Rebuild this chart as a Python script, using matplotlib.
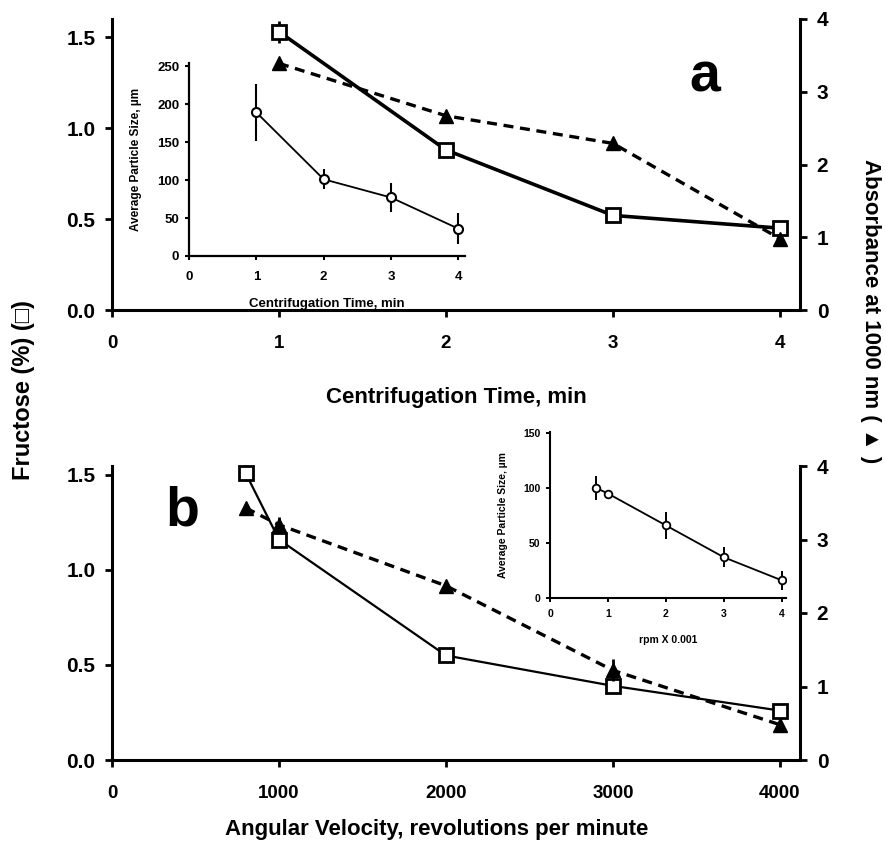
import matplotlib
matplotlib.use('Agg')
import matplotlib.pyplot as plt

plt.rcParams['font.family'] = ['Liberation Sans', 'DejaVu Sans']
plt.rcParams['font.weight'] = 'bold'

# panel a: centrifugation time
time_min = [1, 2, 3, 4]
fructose_a = [1.53, 0.88, 0.52, 0.45]
fructose_a_err = [0.06, 0, 0, 0]
absorb_a = [3.39, 2.67, 2.29, 0.98]

# inset a
inset_a_time = [1, 2, 3, 4]
inset_a_size = [189, 101, 77, 36]
inset_a_err = [38, 13, 19, 20]

# panel b: angular velocity
rpm = [800, 1000, 2000, 3000, 4000]
fructose_b = [1.51, 1.16, 0.55, 0.39, 0.26]
fructose_b_err = [0.04, 0, 0, 0, 0]
absorb_b = [3.43, 3.20, 2.37, 1.22, 0.48]
absorb_b_err = [0, 0.1, 0, 0.15, 0.08]

# inset b
inset_b_rpm = [0.8, 1, 2, 3, 4]
inset_b_size = [100, 95, 66, 37, 16]
inset_b_err = [11, 0, 12, 9, 9]

W, H = 886, 852
fig = plt.figure(figsize=(W / 100, H / 100), dpi=100)


def box(l, t, r, b):
    return [l / W, 1 - b / H, (r - l) / W, (b - t) / H]


def style_main(ax):
    ax.spines['top'].set_visible(False)
    for s in ['left', 'right', 'bottom']:
        ax.spines[s].set_linewidth(2.2)
    ax.tick_params(direction='out', length=5, width=2)
    ax.tick_params(axis='x', labelsize=13.5, pad=13)
    ax.tick_params(axis='y', labelsize=15, pad=7)


# ---- panel a
axa = fig.add_axes(box(112, 19, 800, 310))
axa2 = axa.twinx()
axa.errorbar(time_min, fructose_a, yerr=fructose_a_err, color='k', lw=2.6,
             marker='s', ms=10, mfc='white', mec='k', mew=2, ecolor='k', elinewidth=2,
             capsize=0, zorder=5, clip_on=False)
axa2.plot(time_min, absorb_a, color='k', lw=2.4, ls=(0, (3, 2)), marker='^', ms=10,
          mfc='k', mec='k', clip_on=False)
axa.set_xlim(0, 4.12)
axa.set_ylim(0, 1.6)
axa2.set_ylim(0, 4)
axa.set_xticks([0, 1, 2, 3, 4])
axa.set_yticks([0, 0.5, 1.0, 1.5])
axa.set_yticklabels(['0.0', '0.5', '1.0', '1.5'])
axa2.set_yticks([0, 1, 2, 3, 4])
style_main(axa)
style_main(axa2)
axa.spines['right'].set_visible(False)
axa2.spines['left'].set_visible(False)
axa2.spines['bottom'].set_visible(False)
axa2.text(3.55, 3.2, 'a', fontsize=40, fontweight='bold', ha='center', va='center')

# inset a
ia = fig.add_axes(box(189, 63, 465, 256))
ia.patch.set_alpha(0)
ia.errorbar(inset_a_time, inset_a_size, yerr=inset_a_err, color='k', lw=1.3,
            marker='o', ms=6.5, mfc='white', mec='k', mew=1.5, elinewidth=1.5, capsize=0)
ia.set_xlim(0, 4.1)
ia.set_ylim(0, 254)
ia.set_xticks([0, 1, 2, 3, 4])
ia.set_yticks([0, 50, 100, 150, 200, 250])
for s in ['top', 'right']:
    ia.spines[s].set_visible(False)
for s in ['left', 'bottom']:
    ia.spines[s].set_linewidth(1.6)
ia.tick_params(direction='out', length=3, width=1.5, labelsize=9.5)
ia.tick_params(axis='x', pad=8)
ia.tick_params(axis='y', pad=4)
ia.set_xlabel('Centrifugation Time, min', fontsize=9.5, fontweight='bold')
ia.set_ylabel('Average Particle Size, µm', fontsize=8.5, fontweight='bold')
ia.xaxis.set_label_coords(0.5, -0.22)
ia.yaxis.set_label_coords(-0.17, 0.5)

# ---- panel b
axb = fig.add_axes(box(112, 466, 800, 760))
axb2 = axb.twinx()
axb.errorbar(rpm, fructose_b, yerr=fructose_b_err, color='k', lw=1.6,
             marker='s', ms=10, mfc='white', mec='k', mew=2, ecolor='k', elinewidth=2,
             capsize=0, zorder=5, clip_on=False)
axb2.errorbar(rpm, absorb_b, yerr=absorb_b_err, color='k', lw=2.4, ls=(0, (3, 2)),
              marker='^', ms=10, mfc='k', mec='k', elinewidth=2, capsize=0, clip_on=False)
axb.set_xlim(0, 4120)
axb.set_ylim(0, 1.547)
axb2.set_ylim(0, 4)
axb.set_xticks([0, 1000, 2000, 3000, 4000])
axb.set_yticks([0, 0.5, 1.0, 1.5])
axb.set_yticklabels(['0.0', '0.5', '1.0', '1.5'])
axb2.set_yticks([0, 1, 2, 3, 4])
style_main(axb)
style_main(axb2)
axb.spines['right'].set_visible(False)
axb2.spines['left'].set_visible(False)
axb2.spines['bottom'].set_visible(False)
axb.text(420, 1.31, 'b', fontsize=40, fontweight='bold', ha='center', va='center')

# inset b
ib = fig.add_axes(box(550, 432, 786, 598))
ib.patch.set_alpha(0)
ib.errorbar(inset_b_rpm, inset_b_size, yerr=inset_b_err, color='k', lw=1.3,
            marker='o', ms=5.5, mfc='white', mec='k', mew=1.3, elinewidth=1.4, capsize=0)
ib.set_xlim(0, 4.07)
ib.set_ylim(0, 151)
ib.set_xticks([0, 1, 2, 3, 4])
ib.set_yticks([0, 50, 100, 150])
for s in ['top', 'right']:
    ib.spines[s].set_visible(False)
for s in ['left', 'bottom']:
    ib.spines[s].set_linewidth(1.5)
ib.tick_params(direction='out', length=3, width=1.4, labelsize=7.5)
ib.tick_params(axis='x', pad=5)
ib.tick_params(axis='y', pad=4)
ib.set_xlabel('rpm X 0.001', fontsize=7.5, fontweight='bold')
ib.set_ylabel('Average Particle Size, µm', fontsize=7.5, fontweight='bold')
ib.xaxis.set_label_coords(0.5, -0.22)
ib.yaxis.set_label_coords(-0.18, 0.5)

# shared labels
fig.text(456 / W, 1 - 398 / H, 'Centrifugation Time, min', fontsize=16, fontweight='bold',
         ha='center', va='center')
fig.text(437 / W, 1 - 830 / H, 'Angular Velocity, revolutions per minute', fontsize=16,
         fontweight='bold', ha='center', va='center')
fig.text(24 / W, 1 - 480 / H, 'Fructose (%) (□)', fontsize=17, fontweight='bold',
         rotation=90, ha='center', va='bottom')
fig.text(870 / W, 1 - 463 / H, 'Absorbance at 1000 nm ( ▲ )', fontsize=16, fontweight='bold',
         rotation=-90, ha='center', va='bottom')

fig.savefig('out.png', dpi=100)
